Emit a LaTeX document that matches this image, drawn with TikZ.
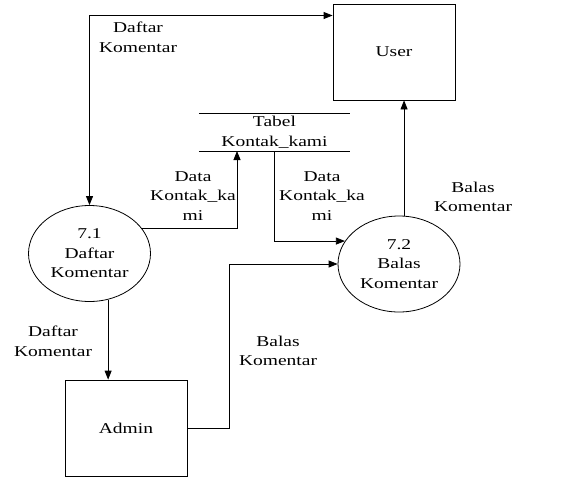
\documentclass[tikz,border=0pt]{standalone}
\usepackage{fontspec}
\setmainfont{Liberation Serif}[FakeStretch=1.3]
\usetikzlibrary{shapes.geometric,arrows.meta}
\begin{document}
\begin{tikzpicture}[x=1pt,y=-1pt,
  every node/.style={font=\fontsize{15}{19.5}\selectfont, align=center, inner sep=0pt},
  entity/.style={draw, line width=0.8pt, minimum width=122pt, minimum height=96pt},
  proc/.style={draw, ellipse, line width=0.8pt, minimum width=122pt, minimum height=96pt},
  flow/.style={line width=0.8pt, -{Triangle[length=9pt,width=7pt]}},
  bflow/.style={line width=0.8pt, {Triangle[length=9pt,width=7pt]}-{Triangle[length=9pt,width=7pt]}}]
\useasboundingbox (0,0) rectangle (561,477);
\node[entity] (user) at (394,52) {User};
\node[entity] (admin) at (126,428) {Admin};
\node[proc] (e71) at (89.5,253.5) {7.1\\Daftar\\Komentar};
\node[proc] (e72) at (399,264) {7.2\\Balas\\Komentar};
\node[minimum width=151pt, minimum height=37pt] (store) at (274.5,132.5) {Tabel\\Kontak\_kami};
\draw[line width=0.8pt] (store.north west) -- (store.north east);
\draw[line width=0.8pt] (store.south west) -- (store.south east);
% flows
\coordinate (tl) at (89.5,15.5);
\draw[bflow] (e71.north) -- (tl) -- (tl -| user.west);
\coordinate (s1) at (237,151);
\draw[flow] (e71.26) -| (s1);
\draw[flow] (store.south) |- (e72.157);
\draw[flow] (e72.84) -- (e72.84 |- user.south);
\draw[flow] (e71.-68) -- (e71.-68 |- admin.north);
\coordinate (b1) at (229,428);
\draw[flow] (admin.east) -- (b1) |- (e72.west);
% labels
\node (l1) at (138,37.5) {Daftar\\Komentar};
\node (l2) at (193,196) {Data\\Kontak\_ka\\mi};
\node (l3) at (322,196) {Data\\Kontak\_ka\\mi};
\node (l4) at (473,197) {Balas\\Komentar};
\node (l5) at (53,341.5) {Daftar\\Komentar};
\node (l6) at (278,351) {Balas\\Komentar};
\end{tikzpicture}
\end{document}
